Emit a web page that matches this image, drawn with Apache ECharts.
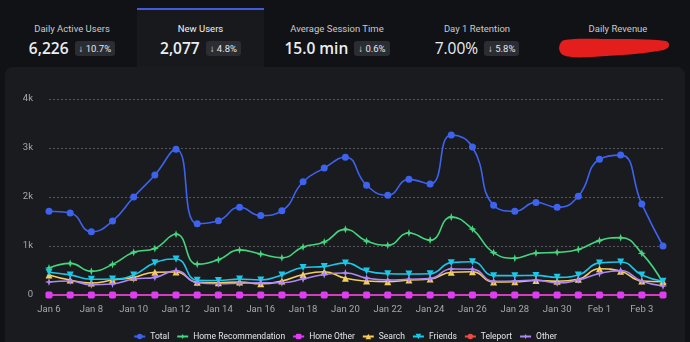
<!DOCTYPE html>
<html>
<head>
<meta charset="utf-8">
<script src="https://cdn.jsdelivr.net/npm/echarts@6/dist/echarts.min.js"></script>
<style>
  html, body { margin: 0; padding: 0; width: 690px; height: 342px; overflow: hidden; background: #111215; font-family: Roboto, "Open Sans", sans-serif; }
  .tab { position: absolute; top: 8px; height: 59px; text-align: center; }
  .tab.active { background: #18191d; border-top: 2px solid #3f5be0; top: 8px; }
  .lbl { position: absolute; left: 0; right: 0; top: 15px; font-size: 9.5px; color: #c8cacf; white-space: nowrap; }
  .tab.active .lbl { color: #f2f2f2; }
  .row { position: absolute; left: 0; right: 0; top: 30px; height: 20px; display: flex; justify-content: center; align-items: center; white-space: nowrap; }
  .val { font-size: 15.5px; font-weight: 600; color: #eceef2; font-family: "Open Sans", Roboto, sans-serif; }
  .badge { margin-left: 6px; background: #2b2d33; border-radius: 3px; padding: 0 4px; height: 15px; line-height: 15px; font-size: 9.5px; color: #e6e7ea; }
  .panel { position: absolute; left: 5px; top: 67px; width: 680px; height: 300px; background: #1a1b1f; border-radius: 8px; }
  #chart { position: absolute; left: 0; top: 0; width: 690px; height: 342px; }
  svg.mark { position: absolute; left: 558px; top: 36px; }
</style>
</head>
<body>
<div class="tab" style="left:8px;width:128px;"><div class="lbl">Daily Active Users</div><div class="row"><span class="val">6,226</span><span class="badge">↓ 10.7%</span></div></div>
<div class="tab active" style="left:137px;width:127px;"><div class="lbl" style="top:13px">New Users</div><div class="row" style="top:28px"><span class="val">2,077</span><span class="badge">↓ 4.8%</span></div></div>
<div class="tab" style="left:266px;width:142px;"><div class="lbl">Average Session Time</div><div class="row"><span class="val">15.0 min</span><span class="badge">↓ 0.6%</span></div></div>
<div class="tab" style="left:410px;width:134px;"><div class="lbl">Day 1 Retention</div><div class="row"><span class="val" style="font-weight:500">7.00%</span><span class="badge">↓ 5.8%</span></div></div>
<div class="tab" style="left:548px;width:140px;"><div class="lbl">Daily Revenue</div></div>
<svg class="mark" width="114" height="26" viewBox="0 0 114 26"><path d="M4,5 C12,2 30,3 50,3 C72,3 92,3 108,5 C113,7 112,12 106,14 C90,17 70,19 48,20 C30,21 14,23 5,19 C0,16 0,9 4,5 Z" fill="#e41d1d"/></svg>
<div class="panel"></div>
<div id="chart"></div>
<script>
// Daily new users by acquisition source
const days = ['Jan 6','Jan 7','Jan 8','Jan 9','Jan 10','Jan 11','Jan 12','Jan 13','Jan 14','Jan 15',
  'Jan 16','Jan 17','Jan 18','Jan 19','Jan 20','Jan 21','Jan 22','Jan 23','Jan 24','Jan 25',
  'Jan 26','Jan 27','Jan 28','Jan 29','Jan 30','Jan 31','Feb 1','Feb 2','Feb 3','Feb 4'];
const total = [1710,1675,1290,1510,2000,2450,2975,1455,1515,1790,1620,1720,2310,2590,2810,2240,2035,2360,2265,3265,3020,1830,1710,1890,1790,2015,2770,2855,1855,1000];
const homeRecommendation = [550,645,485,625,870,950,1240,630,720,920,835,760,980,1080,1340,1100,1015,1265,1120,1590,1345,865,750,855,870,930,1110,1170,850,240];
const homeOther = [0,0,0,0,0,0,0,0,0,0,0,0,0,0,0,0,0,0,0,0,0,0,0,0,0,0,0,0,0,0];
const search = [410,305,245,305,360,465,470,260,250,265,230,285,420,475,340,285,270,305,325,465,475,265,270,295,280,320,535,485,285,270];
const friends = [465,410,320,325,410,660,735,300,295,325,305,410,560,580,655,490,435,430,435,660,680,395,395,400,360,410,655,675,410,280];
const teleport = [0,0,0,0,0,0,0,0,0,0,0,0,0,0,0,0,0,0,0,0,0,0,0,0,0,0,0,0,0,0];
const other = [265,285,210,225,325,360,495,250,230,240,250,250,325,420,450,345,305,320,335,530,525,280,285,305,245,305,440,495,280,185];
const yTicks = [0, 1000, 2000, 3000, 4000];

const sparkle = 'path://M0,-10 L2.6,-2.6 L10,0 L2.6,2.6 L0,10 L-2.6,2.6 L-10,0 L-2.6,-2.6 Z';

function line(name, data, color, symbol, size, extra) {
  return Object.assign({
    name, type: 'line', data, smooth: true,
    symbol, symbolSize: size, showSymbol: true,
    lineStyle: { color, width: 1.6 },
    itemStyle: { color },
    emphasis: { disabled: true }
  }, extra || {});
}

const chart = echarts.init(document.getElementById('chart'), null, { renderer: 'canvas' });
chart.setOption({
  backgroundColor: 'transparent',
  animation: false,
  textStyle: { fontFamily: 'Roboto, "Open Sans", sans-serif' },
  grid: { left: 49, right: 27, top: 99, bottom: 47 },
  legend: {
    left: 'center', top: 327, itemWidth: 11, itemHeight: 7, itemGap: 7,
    textStyle: { color: '#e4e5e8', fontSize: 8.5 },
    data: ['Total','Home Recommendation','Home Other','Search','Friends','Teleport','Other']
  },
  xAxis: {
    type: 'category', data: days, boundaryGap: false,
    axisLine: { show: true, lineStyle: { color: '#5c5e64' } },
    axisTick: { show: false },
    axisLabel: { color: '#a6a8ae', fontSize: 9.5, interval: 1, margin: 10 }
  },
  yAxis: {
    type: 'value', min: yTicks[0], max: yTicks[yTicks.length - 1], interval: 1000,
    axisLine: { show: false }, axisTick: { show: false },
    axisLabel: { color: '#a6a8ae', fontSize: 9.5, margin: 16,
      formatter: v => v === 0 ? '0' : (v / 1000) + 'k' },
    splitLine: { show: true, lineStyle: { color: '#55575d', type: [2, 2], width: 1 } }
  },
  series: [
    line('Total', total, '#3d63ee', 'circle', 7),
    line('Home Recommendation', homeRecommendation, '#44d67f', sparkle, 8),
    line('Home Other', homeOther, '#dd3ef0', 'roundRect', 7, { smooth: false }),
    line('Search', search, '#f5cd5a', 'triangle', 7),
    line('Friends', friends, '#1cc6e6', 'triangle', 7, { symbolRotate: 180 }),
    line('Teleport', teleport, '#ee4a44', 'circle', 4, { smooth: false, z: 1 }),
    line('Other', other, '#ad86f7', sparkle, 8)
  ]
});
</script>
</body>
</html>
